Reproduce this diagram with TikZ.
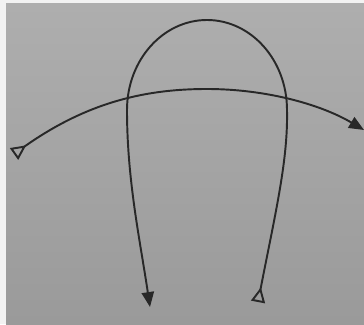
\documentclass[tikz,border=0pt]{standalone}
\usetikzlibrary{arrows.meta}
\definecolor{pagetop}{RGB}{174,174,174}
\definecolor{pagebot}{RGB}{154,154,154}
\definecolor{inkgray}{RGB}{40,40,40}
\begin{document}
\begin{tikzpicture}[
  x=0.02cm, y=-0.02cm,
  curve/.style={line width=1.1pt, draw=inkgray},
  opentail/.tip={Triangle[open, reversed, length=8.5pt, width=8pt, line width=1.1pt]},
  headtip/.tip={Triangle[length=8.5pt, width=7pt]}
]
  \useasboundingbox (0,0) rectangle (364,324);

  % Fondo: hoja fotografiada
  \fill[white!90!gray] (0,0) rectangle (364,324);
  \shade[top color=pagetop, bottom color=pagebot] (6,4) rectangle (364,324);

  % Puntos extremos de las curvas
  \coordinate (uR) at (258,302);
  \coordinate (uL) at (150,307);
  \coordinate (aL) at (14,154);
  \coordinate (aR) at (364,130);
  \coordinate (top) at (207,20);
  \coordinate (peak) at (207,89);

  % Curva en forma de herradura
  \draw[curve, opentail-headtip] (uR) .. controls (276,210) and (288,160) .. (287,110)
    .. controls (287,60) and (251,20) .. (top)
    .. controls (163,20) and (127,60) .. (127,110)
    .. controls (127,180) and (140,240) .. (uL);

  % Arco horizontal
  \draw[curve, opentail-headtip] (aL) .. controls (90,100) and (150,89) .. (peak)
    .. controls (265,89) and (320,104) .. (aR);
\end{tikzpicture}
\end{document}
